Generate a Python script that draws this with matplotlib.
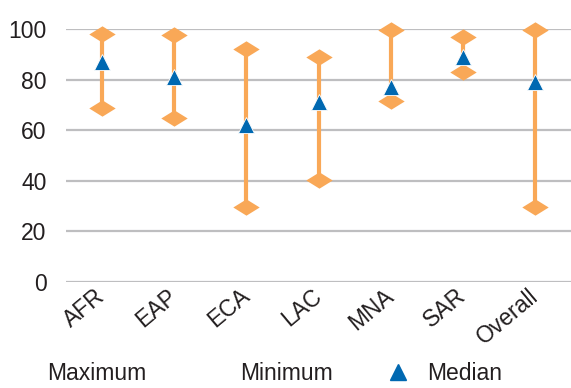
import numpy as np
import matplotlib
matplotlib.use("Agg")
import matplotlib.pyplot as plt
from matplotlib.lines import Line2D
from matplotlib.path import Path

# Values
regions = ["AFR", "EAP", "ECA", "LAC", "MNA", "SAR", "Overall"]
maximum = [98, 97.5, 92, 89, 99.5, 97, 99.5]
minimum = [69, 65, 29.5, 40.5, 71.5, 83, 29.5]
median = [87, 81, 62, 71, 77, 89, 79]
yticks = [0, 20, 40, 60, 80, 100]

orange = "#F9A857"
blue = "#0068B1"
grey = "#BEBEC0"
text_col = "#231F20"

plt.rcParams['font.family'] = ['Liberation Sans', 'DejaVu Sans']

# flat diamond used for the max / min ends
diamond = Path([(-1, 0), (0, 0.62), (1, 0), (0, -0.62), (-1, 0)],
               [Path.MOVETO, Path.LINETO, Path.LINETO, Path.LINETO, Path.CLOSEPOLY])

fig = plt.figure(figsize=(5.71, 3.88), dpi=100)
ax = fig.add_axes([0.1156, 0.273, 0.8844, 0.652])

x = np.arange(len(regions))
ax.vlines(x, minimum, maximum, color=orange, lw=3, zorder=2)
ax.plot(x, maximum, linestyle='none', marker=diamond, ms=19, color=orange, mec='none',
        zorder=3, clip_on=False)
ax.plot(x, minimum, linestyle='none', marker=diamond, ms=19, color=orange, mec='none',
        zorder=3, clip_on=False)
ax.plot(x, median, linestyle='none', marker='^', ms=12, color=blue, mec='white', mew=0.6,
        zorder=4, clip_on=False)

ax.set_xlim(-0.5, len(regions) - 0.5)
ax.set_ylim(0, 100)
ax.set_yticks(yticks)
ax.set_yticklabels([str(t) for t in yticks], fontsize=16.5, color=text_col)
ax.set_xticks(x)
ax.set_xticklabels(regions, fontsize=16.5, color=text_col, rotation=40,
                   ha='right', va='center', rotation_mode='anchor')
ax.tick_params(axis='both', length=0)
ax.tick_params(axis='y', pad=14)
ax.tick_params(axis='x', pad=8)
ax.grid(axis='y', color=grey, lw=1.6)
ax.set_axisbelow(True)
for s in ax.spines.values():
    s.set_visible(False)

handles = [Line2D([], [], linestyle='none'),
           Line2D([], [], linestyle='none'),
           Line2D([], [], linestyle='none', marker='^', ms=12, color=blue)]
fig.legend(handles, ["Maximum", "Minimum", "Median"], ncol=3, frameon=False,
           loc='lower left', bbox_to_anchor=(0.0, 0.0), fontsize=16.5,
           borderaxespad=0, borderpad=0.15,
           handlelength=1.3, handletextpad=0.6, columnspacing=2.2,
           labelcolor=text_col)

fig.savefig("out.png", dpi=100)
